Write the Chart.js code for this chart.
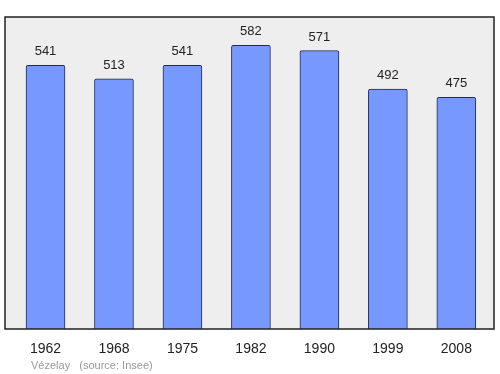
<!DOCTYPE html>
<html>
<head>
<meta charset="utf-8">
<script src="https://cdn.jsdelivr.net/npm/chart.js@4/dist/chart.umd.min.js"></script>
<style>
  html, body { margin: 0; padding: 0; background: #fff; }
  #wrap { width: 500px; height: 374px; }
</style>
</head>
<body>
<div id="wrap"><canvas id="popChart"></canvas></div>
<script>
// population data
const years = ["1962", "1968", "1975", "1982", "1990", "1999", "2008"];
const population = [541, 513, 541, 582, 571, 492, 475];
const footerText = "Vézelay   (source: Insee)";

const fontFamily = "'Liberation Sans', Arial, sans-serif";

// grey plot background + frame, value labels, footer
const framePlugin = {
    id: "frame",
    beforeDatasetsDraw(chart) {
        const a = chart.chartArea;
        const ctx = chart.ctx;
        ctx.save();
        ctx.fillStyle = "#eeeeee";
        ctx.fillRect(a.left, a.top, a.right - a.left, a.bottom - a.top);
        ctx.restore();
    },
    afterDatasetsDraw(chart) {
        const a = chart.chartArea;
        const ctx = chart.ctx;
        ctx.save();
        ctx.strokeStyle = "#222";
        ctx.lineWidth = 1.5;
        ctx.strokeRect(a.left, a.top, a.right - a.left, a.bottom - a.top);

        ctx.fillStyle = "#222";
        ctx.font = "13px " + fontFamily;
        ctx.textAlign = "center";
        ctx.textBaseline = "alphabetic";
        chart.getDatasetMeta(0).data.forEach((bar, i) => {
            ctx.fillText(String(population[i]), bar.x, bar.y - 10);
        });

        ctx.fillStyle = "#999";
        ctx.font = "11px " + fontFamily;
        ctx.textAlign = "left";
        ctx.fillText(footerText, 31, 369);
        ctx.restore();
    }
};

new Chart(document.getElementById("popChart"), {
    type: "bar",
    data: {
        datasets: [{
            data: population.map((v, i) => ({ x: i, y: v })),
            backgroundColor: "#7799ff",
            borderColor: "#1f2a55",
            borderWidth: 1,
            borderRadius: 2,
            borderSkipped: "bottom",
            barThickness: 39
        }]
    },
    options: {
        responsive: true,
        maintainAspectRatio: false,
        animation: false,
        layout: { padding: { left: 5, right: 6, top: 17, bottom: 0 } },
        plugins: {
            legend: { display: false },
            tooltip: { enabled: false }
        },
        scales: {
            x: {
                type: "linear",
                offset: false,
                min: -0.5915,
                max: 6.55,
                grid: { display: false, offset: false },
                border: { display: false },
                afterBuildTicks(scale) {
                    scale.ticks = years.map((y, i) => ({ value: i }));
                },
                afterFit(scale) { scale.height = 45; },
                ticks: {
                    autoSkip: false,
                    maxRotation: 0,
                    padding: 4,
                    color: "#222",
                    font: { size: 14, family: fontFamily },
                    callback: (v) => years[v]
                }
            },
            y: {
                display: false,
                min: 0,
                max: 640
            }
        }
    },
    plugins: [framePlugin]
});
</script>
</body>
</html>
